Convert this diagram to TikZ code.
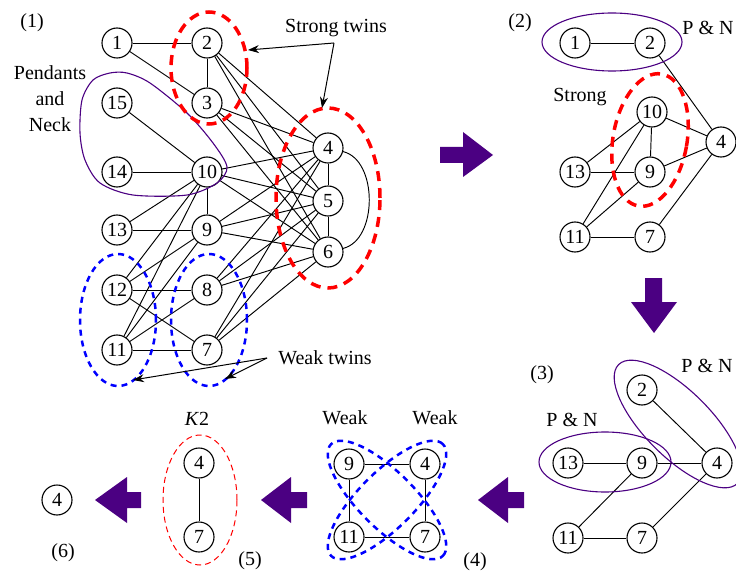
\documentclass[tikz,border=0pt]{standalone}
\usepackage{fontspec}
\setmainfont{Liberation Serif}
\usetikzlibrary{arrows.meta}
\definecolor{pur}{RGB}{75,0,130}
\begin{document}
\begin{tikzpicture}[x=1pt,y=-1pt,
  vtx/.style={circle,draw,fill=white,line width=1.1pt,minimum size=30pt,inner sep=0pt,font=\fontsize{20}{24}\selectfont},
  edge/.style={line width=0.95pt},
  lbl/.style={font=\fontsize{20}{26}\selectfont,inner sep=0pt},
  pn/.style={draw=pur,line width=1.1pt},
  rdash/.style={draw=red,line width=3.5pt,dash pattern=on 10pt off 7pt},
  bdash/.style={draw=blue,line width=2.5pt,dash pattern=on 6pt off 5pt},
  pointer/.style={line width=1pt,-{Stealth[length=11pt,width=8pt]}},
  bigarrow/.style={fill=pur,draw=none}
]
\useasboundingbox (0,0) rectangle (736,572);

% ---------- panel (1) nodes ----------
\node[vtx] (a1) at (117,43) {1};
\node[vtx] (a2) at (207,43) {2};
\node[vtx] (a3) at (207,103) {3};
\node[vtx] (a15) at (117,103) {15};
\node[vtx] (a14) at (117,172) {14};
\node[vtx] (a10) at (207,172) {10};
\node[vtx] (a4) at (328,148) {4};
\node[vtx] (a5) at (328,201) {5};
\node[vtx] (a6) at (328,252) {6};
\node[vtx] (a13) at (117,230) {13};
\node[vtx] (a9) at (207,230) {9};
\node[vtx] (a12) at (117,290) {12};
\node[vtx] (a8) at (207,290) {8};
\node[vtx] (a11) at (117,350) {11};
\node[vtx] (a7) at (207,350) {7};

\foreach \u/\v in {1/2,1/3,2/3,2/4,2/5,2/6,3/4,3/5,3/6,15/10,14/10,10/4,10/5,10/6,10/9,10/13,10/12,10/11,13/9,9/4,9/5,9/6,9/12,9/11,12/8,12/7,11/8,11/7,8/4,8/5,8/6,7/4,7/5,7/6,4/5,5/6}
  \draw[edge] (a\u) -- (a\v);
\draw[edge] (a4) .. controls (378,160) and (378,240) .. (a6);

% ---------- panel (1) groupings ----------
\draw[pn] plot[smooth cycle] coordinates {(110,73) (127,73) (150,83) (187,113) (213,143) (227,167) (217,183) (187,195) (133,195) (100,183) (85,160) (80,133) (82,100) (93,80)};
\draw[rdash] (209,68) ellipse [x radius=38pt, y radius=56pt];
\draw[rdash] (328,198) ellipse [x radius=52pt, y radius=90pt];
\draw[bdash] (118,320) ellipse [x radius=38pt, y radius=66pt];
\draw[bdash] (209,320) ellipse [x radius=38pt, y radius=66pt];

% ---------- panel (1) labels ----------
\node[lbl] (t1) at (32,23) {(1)};
\node[lbl,align=center] (pnk) at (50,99) {Pendants\\and\\Neck};
\node[lbl] (st) at (336,28) {Strong twins};
\node[lbl] (wt) at (325,358) {Weak twins};
\coordinate (stp) at (334,43);
\coordinate (st1) at (248,50);
\coordinate (st2) at (322,108);
\draw[pointer] (stp) -- (st1);
\draw[pointer] (stp) -- (st2);
\coordinate (wtp) at (267,358);
\coordinate (wt1) at (133,380);
\coordinate (wt2) at (225,379);
\draw[pointer] (wtp) -- (wt1);
\draw[pointer] (wtp) -- (wt2);

% ---------- panel (2) ----------
\node[vtx] (b1) at (575,43) {1};
\node[vtx] (b2) at (650,43) {2};
\node[vtx] (b10) at (652,112) {10};
\node[vtx] (b4) at (721,142) {4};
\node[vtx] (b13) at (575,172) {13};
\node[vtx] (b9) at (650,172) {9};
\node[vtx] (b11) at (575,237) {11};
\node[vtx] (b7) at (650,237) {7};
\foreach \u/\v in {1/2,2/4,10/4,10/9,9/4,13/10,13/9,11/10,11/9,11/7,7/4}
  \draw[edge] (b\u) -- (b\v);
\draw[pn] (612,42) ellipse [x radius=70pt, y radius=29pt];
\draw[rdash, rotate around={-10:(650,140)}] (650,140) ellipse [x radius=37pt, y radius=67pt];
\node[lbl] (t2) at (520,23) {(2)};
\node[lbl] (pn2) at (708,28) {P \& N};
\node[lbl] (str2) at (580,97) {Strong};

% ---------- panel (3) ----------
\node[vtx] (c2) at (642,390) {2};
\node[vtx] (c13) at (568,463) {13};
\node[vtx] (c9) at (642,463) {9};
\node[vtx] (c4) at (717,463) {4};
\node[vtx] (c11) at (568,538) {11};
\node[vtx] (c7) at (642,538) {7};
\foreach \u/\v in {2/4,13/9,9/4,9/11,11/7,7/4}
  \draw[edge] (c\u) -- (c\v);
\draw[pn] (605,462) ellipse [x radius=66pt, y radius=30pt];
\draw[pn, rotate around={-45:(678,424)}] (678,424) ellipse [x radius=84pt, y radius=33pt];
\node[lbl] (t3) at (542,375) {(3)};
\node[lbl] (pn3a) at (707,366) {P \& N};
\node[lbl] (pn3b) at (572,420) {P \& N};

% ---------- panel (4) ----------
\node[vtx] (d9) at (349,464) {9};
\node[vtx] (d4) at (425,464) {4};
\node[vtx] (d11) at (349,537) {11};
\node[vtx] (d7) at (425,537) {7};
\foreach \u/\v in {9/4,9/11,4/7,11/7}
  \draw[edge] (d\u) -- (d\v);
\draw[bdash, rotate around={-45:(387,500)}] (387,500) ellipse [x radius=79pt, y radius=28pt];
\draw[bdash, rotate around={45:(387,500)}] (387,500) ellipse [x radius=79pt, y radius=28pt];
\node[lbl] (w4a) at (345,418) {Weak};
\node[lbl] (w4b) at (435,418) {Weak};
\node[lbl] (t4) at (475,562) {(4)};

% ---------- panel (5) ----------
\node[vtx] (e4) at (199,463) {4};
\node[vtx] (e7) at (199,537) {7};
\draw[edge] (e4) -- (e7);
\draw[red, line width=1pt, dash pattern=on 6pt off 4pt] (200,500) ellipse [x radius=37pt, y radius=65pt];
\node[lbl] (k2) at (197,419) {\textit{K}2};
\node[lbl] (t5) at (250,561) {(5)};

% ---------- panel (6) ----------
\node[vtx] (f4) at (57,500) {4};
\node[lbl] (t6) at (63,553) {(6)};

% ---------- block arrows ----------
\fill[bigarrow] (440,147) -- (463,147) -- (463,132) -- (493,155) -- (463,177) -- (463,163) -- (440,163) -- cycle;
\fill[bigarrow] (645,278) -- (662,278) -- (662,302) -- (677,302) -- (654,333) -- (631,302) -- (645,302) -- cycle;
\foreach \T/\B/\E in {478/508/524, 261/291/307, 95/127/141}
  \fill[bigarrow] (\T,500) -- (\B,477) -- (\B,492) -- (\E,492) -- (\E,508) -- (\B,508) -- (\B,523) -- cycle;
\end{tikzpicture}
\end{document}
